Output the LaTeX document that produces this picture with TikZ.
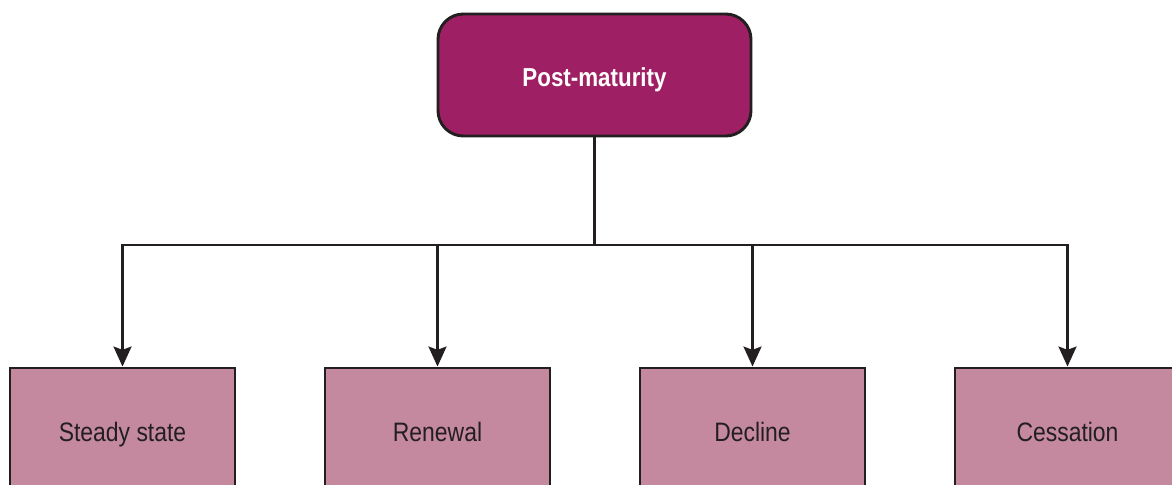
\documentclass[tikz,border=0pt]{standalone}
\usepackage{fontspec}
\setmainfont{Liberation Sans}
\newfontfamily\condfont[FakeStretch=0.86]{Liberation Sans}
\usetikzlibrary{arrows.meta}
\definecolor{topfill}{HTML}{9E1F63}
\definecolor{leaffill}{HTML}{C5899F}
\definecolor{ink}{HTML}{231F20}
\tikzset{
  rootbox/.style={draw=ink, line width=2.2pt, fill=topfill, rounded corners=19pt,
    minimum width=234.75pt, minimum height=91.5pt, inner sep=0pt,
    text height=18pt, text depth=0pt,
    text=white, font=\condfont\bfseries\fontsize{19.5}{22}\selectfont},
  leafbox/.style={draw=ink, line width=2.2pt, fill=leaffill,
    minimum width=168.75pt, minimum height=96pt, inner sep=0pt,
    text height=13.5pt, text depth=0pt,
    text=ink, font=\condfont\fontsize{20}{24}\selectfont},
  link/.style={draw=ink, line width=1.9pt},
  arrowlink/.style={link, -{Stealth[length=15pt, width=13.5pt, inset=2.5pt]}}
}
\begin{document}
\begin{tikzpicture}[x=0.75pt, y=-0.75pt]
  \useasboundingbox (0,0) rectangle (1172,485);
  \clip (0,0) rectangle (1172,485);
  \node[rootbox] (root) at (594.5,75) {Post-maturity};
  \node[leafbox] (s1) at (122.5,432) {Steady state};
  \node[leafbox] (s2) at (437.5,432) {Renewal};
  \node[leafbox] (s3) at (752.5,432) {Decline};
  \node[leafbox] (s4) at (1067.5,432) {Cessation};
  \coordinate (hub) at (594.5,245);
  \draw[link] (root.south) -- (hub);
  \foreach \n in {s1,s2,s3,s4}
    \draw[arrowlink] (hub) -| (\n.north);
\end{tikzpicture}
\end{document}
